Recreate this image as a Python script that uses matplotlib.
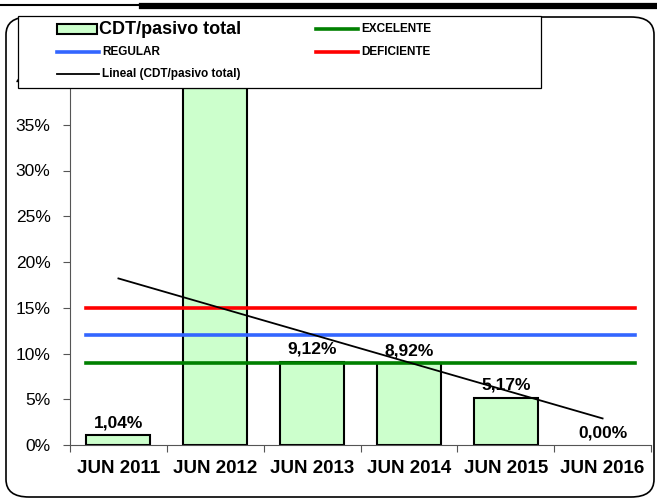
import matplotlib.pyplot as plt
import numpy as np
from matplotlib.patches import FancyBboxPatch, Rectangle
from matplotlib.lines import Line2D

plt.rcParams['font.family'] = ['Liberation Sans', 'DejaVu Sans']

# data
periods = ["JUN 2011", "JUN 2012", "JUN 2013", "JUN 2014", "JUN 2015", "JUN 2016"]
cdt_ratio = [1.04, 39.07, 9.12, 8.92, 5.17, 0.00]
excelente = 9.0
regular = 12.0
deficiente = 15.0
yticks = [0, 5, 10, 15, 20, 25, 30, 35, 40]

W, H = 657, 503
green, blue, red, fill = "#008000", "#3366FF", "#FF0000", "#CCFFCC"


def fx(px):
    return px / W


def fy(py):
    return 1 - py / H


fig = plt.figure(figsize=(W / 100, H / 100), dpi=100)
ax = fig.add_axes([fx(70), fy(445), (651 - 70) / W, (445 - 79) / H])

x = np.arange(len(periods))
ax.bar(x, cdt_ratio, width=0.66, color=fill, edgecolor="black",
       linewidth=[1.5 if v > 0 else 0 for v in cdt_ratio], zorder=2)

# threshold lines span the outer bar edges
xs = [-0.33, len(periods) - 1 + 0.33]
ax.plot(xs, [excelente] * 2, color=green, lw=2.6, zorder=3)
ax.plot(xs, [regular] * 2, color=blue, lw=2.6, zorder=3)
ax.plot(xs, [deficiente] * 2, color=red, lw=2.6, zorder=3)

# linear trend of the series
k, b = np.polyfit(x, cdt_ratio, 1)
ax.plot(x, k * x + b, color="black", lw=1.3, zorder=4)

for xi, v in zip(x, cdt_ratio):
    ax.annotate(f"{v:.2f}%".replace(".", ","), (xi, v), xytext=(0, 9),
                textcoords="offset points", ha="center", va="center",
                fontsize=12.5, fontweight="bold", zorder=5)

ax.set_xlim(-0.5, len(periods) - 0.5)
ax.set_ylim(0, 40)
ax.set_yticks(yticks)
ax.set_yticklabels([f"{t}%" for t in yticks], fontsize=12.5)
ax.set_xticks(np.arange(-0.5, len(periods), 1.0))
ax.set_xticklabels([])
ax.set_xticks(x, minor=True)
ax.set_xticklabels(periods, minor=True, fontsize=13.5, fontweight="bold")
ax.tick_params(axis="x", which="minor", length=0, pad=11)
ax.tick_params(axis="x", which="major", length=5, color="#555555")
ax.tick_params(axis="y", length=5, color="#555555", pad=9)
for s in ["top", "right"]:
    ax.spines[s].set_visible(False)
for s in ["left", "bottom"]:
    ax.spines[s].set_color("#555555")

# rounded chart border
border = FancyBboxPatch((fx(6), fy(497)), (654 - 6) / W, (497 - 17) / H,
                        boxstyle="round,pad=0,rounding_size=0.035",
                        transform=fig.transFigure, fill=False,
                        edgecolor="black", lw=1.2, zorder=1)
fig.patches.append(border)

# header rule
fig.add_artist(Line2D([0, fx(142)], [fy(5)] * 2, color="black", lw=1.5))
fig.add_artist(Line2D([fx(142), 1], [fy(6)] * 2, color="black", lw=4.5))

# legend box drawn over the plot
fig.patches.append(Rectangle((fx(18), fy(88)), (541 - 18) / W, (88 - 16) / H,
                             transform=fig.transFigure, facecolor="white",
                             edgecolor="black", lw=0.9, zorder=4))
fig.patches.append(Rectangle((fx(57), fy(33.5)), 40 / W, 9 / H,
                             transform=fig.transFigure, facecolor=fill,
                             edgecolor="black", lw=1.5, zorder=5))
fig.text(fx(99), fy(29), "CDT/pasivo total", fontsize=13, fontweight="bold",
         va="center", zorder=6)
entries = [
    (57, 52, blue, 2.6, "REGULAR"),
    (57, 74, "black", 1.3, "Lineal (CDT/pasivo total)"),
    (316, 29, green, 2.6, "EXCELENTE"),
    (316, 52, red, 2.6, "DEFICIENTE"),
]
for x0, y0, c, lw, label in entries:
    fig.add_artist(Line2D([fx(x0), fx(x0 + 42)], [fy(y0)] * 2, color=c, lw=lw,
                          zorder=5))
    fig.text(fx(x0 + 45), fy(y0), label, fontsize=8.5, fontweight="bold",
             va="center", zorder=6)

fig.savefig("out.png", dpi=100)
